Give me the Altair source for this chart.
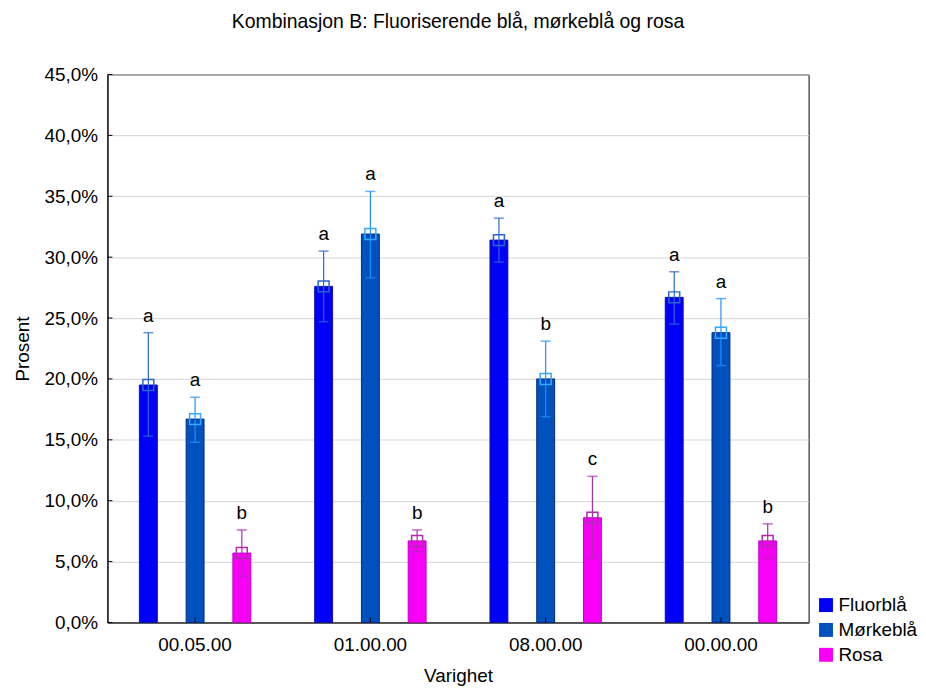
import altair as alt
import pandas as pd

groups = ["00.05.00", "01.00.00", "08.00.00", "00.00.00"]
series = ["Fluorblå", "Mørkeblå", "Rosa"]
y_ticks = [0, 5, 10, 15, 20, 25, 30, 35, 40, 45]

fluor_mean = [19.5, 27.6, 31.4, 26.7]
fluor_lo = [15.3, 24.7, 29.6, 24.5]
fluor_hi = [23.8, 30.5, 33.2, 28.8]
fluor_letter = ["a", "a", "a", "a"]

mork_mean = [16.7, 31.9, 20.0, 23.8]
mork_lo = [14.8, 28.3, 16.9, 21.1]
mork_hi = [18.5, 35.4, 23.1, 26.6]
mork_letter = ["a", "a", "b", "a"]

rosa_mean = [5.7, 6.7, 8.6, 6.7]
rosa_lo = [3.8, 5.8, 5.3, 5.3]
rosa_hi = [7.6, 7.6, 12.0, 8.1]
rosa_letter = ["b", "b", "c", "b"]

fill_colors = ["#0000F8", "#0050BE", "#F800F8"]
edge_colors = ["#1010A0", "#002A80", "#C000C0"]
err_colors = ["#2A66D0", "#1E90FF", "#B02AB0"]
pt_colors = ["#2A66D0", "#33AAFF", "#B02AB0"]

rows = []
for si, (m, lo, hi, let) in enumerate([
    (fluor_mean, fluor_lo, fluor_hi, fluor_letter),
    (mork_mean, mork_lo, mork_hi, mork_letter),
    (rosa_mean, rosa_lo, rosa_hi, rosa_letter),
]):
    for gi, g in enumerate(groups):
        rows.append({
            "Varighet": g, "Serie": series[si], "mean": m[gi], "lo": lo[gi],
            "hi": hi[gi], "letter": let[gi], "edge": edge_colors[si],
            "err": err_colors[si], "pt": pt_colors[si],
        })
df = pd.DataFrame(rows)
df_yt = pd.DataFrame({"v": y_ticks})
df_xt = pd.DataFrame({"Varighet": groups})

FONT = "Liberation Sans"
W, H = 705, 551

x_scale = alt.Scale(domain=groups, paddingInner=0, paddingOuter=0)
x = alt.X("Varighet:N", sort=groups, scale=x_scale,
          axis=alt.Axis(title="Varighet", labelAngle=0, grid=False, ticks=False,
                        labelPadding=13, titlePadding=12, labelFontSize=19,
                        titleFontSize=19, titleFontWeight="normal",
                        domainColor="black", labelColor="black", titleColor="black",
                        labelFont=FONT, titleFont=FONT))
xo = alt.XOffset("Serie:N", sort=series,
                 scale=alt.Scale(paddingInner=0, paddingOuter=0.375))
y_scale = alt.Scale(domain=[0, 45], nice=False)

base = alt.Chart(df)

bars = base.mark_bar(size=18, strokeWidth=1).encode(
    x=x, xOffset=xo,
    y=alt.Y("mean:Q", scale=y_scale,
            axis=alt.Axis(title="Prosent", values=y_ticks,
                          labelExpr="replace(format(datum.value, '.1f'), '.', ',') + '%'",
                          ticks=False, labelPadding=10, titlePadding=12,
                          labelFontSize=19, titleFontSize=19, titleFontWeight="normal",
                          gridColor="#D4D4D4", domainColor="black",
                          labelColor="black", titleColor="black",
                          labelFont=FONT, titleFont=FONT)),
    color=alt.Color("Serie:N", sort=series,
                    scale=alt.Scale(domain=series, range=fill_colors),
                    legend=alt.Legend(title=None, orient="none", legendX=713, legendY=524,
                                      symbolType="square", symbolSize=196,
                                      symbolStrokeWidth=1, labelFontSize=19,
                                      labelFont=FONT, labelColor="black",
                                      rowPadding=5, labelOffset=3)),
    stroke=alt.Stroke("edge:N", scale=None, legend=None),
)

rules = base.mark_rule(strokeWidth=1.2).encode(
    x=x, xOffset=xo,
    y=alt.Y("lo:Q", scale=y_scale), y2="hi:Q",
    color=alt.Color("err:N", scale=None, legend=None),
)

cap_lo = base.mark_tick(size=10, thickness=1.5, orient="horizontal").encode(
    x=x, xOffset=xo, y=alt.Y("lo:Q", scale=y_scale),
    color=alt.Color("err:N", scale=None, legend=None),
)
cap_hi = base.mark_tick(size=10, thickness=1.5, orient="horizontal").encode(
    x=x, xOffset=xo, y=alt.Y("hi:Q", scale=y_scale),
    color=alt.Color("err:N", scale=None, legend=None),
)

pts = base.mark_point(shape="square", filled=False, size=121, strokeWidth=1.5, opacity=1).encode(
    x=x, xOffset=xo, y=alt.Y("mean:Q", scale=y_scale),
    color=alt.Color("pt:N", scale=None, legend=None),
)

letters = base.mark_text(fontSize=19, font=FONT, baseline="bottom", dy=-7, color="black").encode(
    x=x, xOffset=xo, y=alt.Y("hi:Q", scale=y_scale), text="letter:N",
)

ytick_marks = alt.Chart(df_yt).mark_rule(color="black", strokeWidth=1).encode(
    x=alt.value(0), x2=alt.value(5), y=alt.Y("v:Q", scale=y_scale),
)
xtick_marks = alt.Chart(df_xt).mark_rule(color="black", strokeWidth=1).encode(
    x=alt.X("Varighet:N", sort=groups, scale=x_scale),
    y=alt.value(H), y2=alt.value(H - 5),
)

chart = alt.layer(bars, rules, cap_lo, cap_hi, pts, letters, ytick_marks, xtick_marks).properties(
    width=W, height=H,
    title=alt.TitleParams("Kombinasjon B: Fluoriserende blå, mørkeblå og rosa",
                          fontSize=19.5, fontWeight="normal", font=FONT, color="black",
                          offset=33, anchor="middle"),
    autosize=alt.AutoSizeParams(type="none"),
    padding={"left": 100, "top": 65, "right": 110, "bottom": 62},
).configure_view(stroke="black", strokeWidth=1).configure_axis(domainWidth=1)

chart.save("out.html", embed_options={"renderer": "svg", "actions": False})
